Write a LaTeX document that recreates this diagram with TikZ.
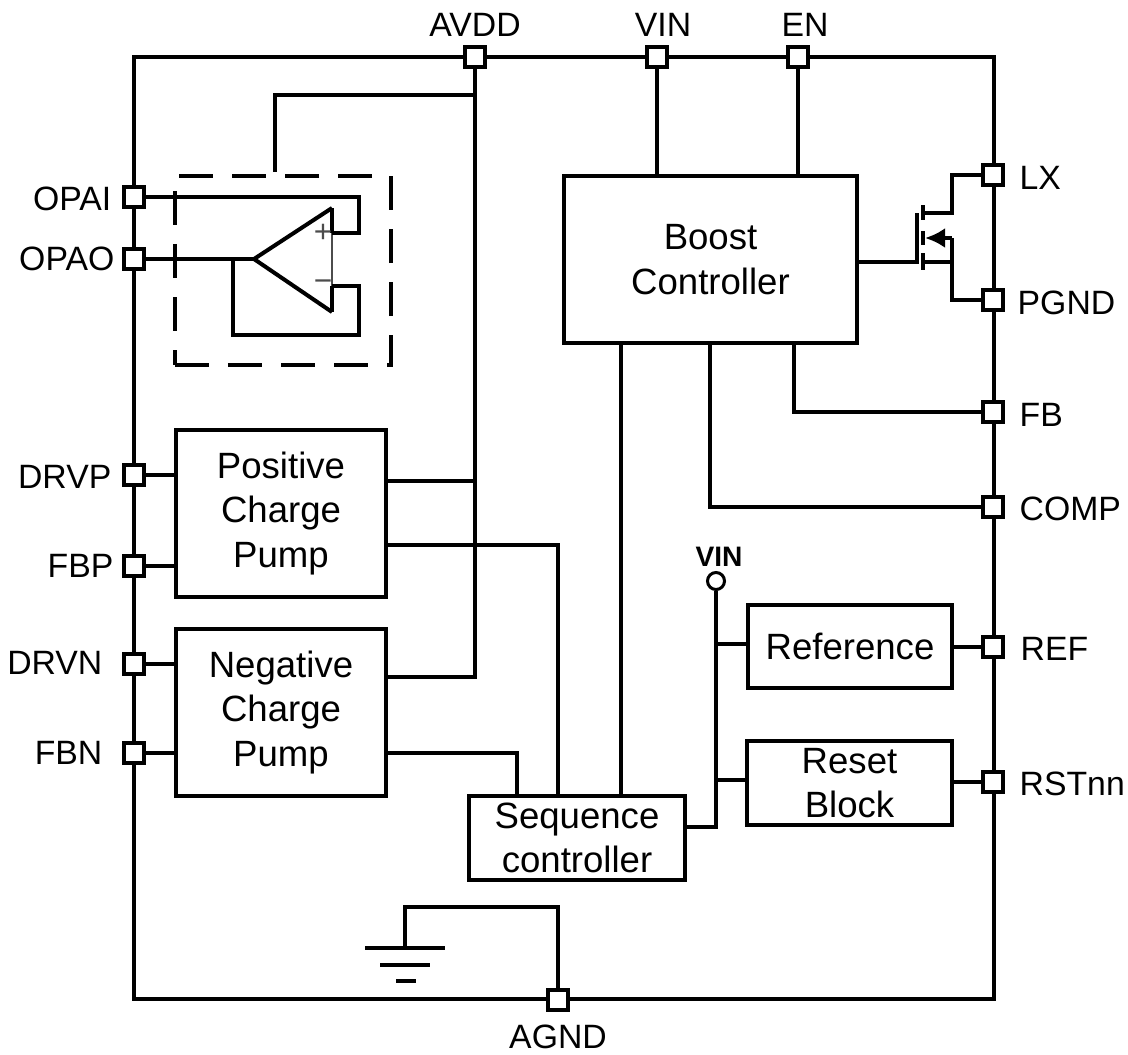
\documentclass[tikz,border=0pt]{standalone}
\usepackage{fontspec}
\setmainfont{Liberation Sans}
\usetikzlibrary{positioning,arrows.meta}
\tikzset{
  wire/.style={line width=0.04cm},
  pin/.style={rectangle, draw, line width=0.04cm, fill=white, minimum size=0.2cm, inner sep=0pt},
  blockbox/.style={rectangle, draw, line width=0.04cm, align=center, inner sep=0pt, font=\fontsize{10.4}{12.6}\selectfont},
  pinlabel/.style={inner sep=0pt, font=\fontsize{9.6}{11}\selectfont},
}

\begin{document}
\begin{tikzpicture}[x=0.01cm, y=-0.01cm]
\useasboundingbox (0,0) rectangle (1128,1054);

% chip outline
\node[rectangle, draw, line width=0.04cm, minimum width=8.6cm, minimum height=9.42cm, inner sep=0pt] (chip) at (564,528) {};

% blocks
\node[blockbox, minimum width=2.93cm, minimum height=1.67cm] (boost) at (710.5,259.5) {Boost\\Controller};
\node[blockbox, minimum width=2.1cm, minimum height=1.67cm] (pospump) at (281,513.5) {Positive\\Charge\\Pump};
\node[blockbox, minimum width=2.1cm, minimum height=1.67cm] (negpump) at (281,712.5) {Negative\\Charge\\Pump};
\node[blockbox, minimum width=2.16cm, minimum height=0.84cm] (seq) at (577,838) {Sequence\\controller};
\node[blockbox, minimum width=2.04cm, minimum height=0.83cm] (reference) at (850,646.5) {Reference};
\node[blockbox, minimum width=2.05cm, minimum height=0.84cm] (reset) at (849.5,783) {Reset\\Block};
\node[rectangle, draw, line width=0.04cm, dash pattern=on 0.34cm off 0.19cm, minimum width=2.16cm, minimum height=1.89cm, inner sep=0pt] (opabox) at (283,270.5) {};

% pins
\node[pin] (avdd) at (475,57) {};
\node[pin] (vin) at (657,57) {};
\node[pin] (en) at (798,57) {};
\node[pin] (opai) at (134,197) {};
\node[pin] (opao) at (134,259) {};
\node[pin] (drvp) at (134,475) {};
\node[pin] (fbp) at (134,566) {};
\node[pin] (drvn) at (134,664) {};
\node[pin] (fbn) at (134,753) {};
\node[pin] (lx) at (993,175) {};
\node[pin] (pgnd) at (993,300) {};
\node[pin] (fb) at (993,412) {};
\node[pin] (comp) at (993,507) {};
\node[pin] (ref) at (993,647) {};
\node[pin] (rst) at (993,782) {};
\node[pin] (agnd) at (558,1000) {};
\node[circle, draw, line width=0.03cm, fill=white, minimum size=0.17cm, inner sep=0pt] (vinpin) at (716,581) {};

% pin labels
\node[pinlabel] at (475,25) {AVDD};
\node[pinlabel] at (663,25) {VIN};
\node[pinlabel] at (805,25) {EN};
\node[pinlabel, anchor=east] at (112,199) {OPAI};
\node[pinlabel, anchor=east] at (115,259) {OPAO};
\node[pinlabel, anchor=east] at (112,477) {DRVP};
\node[pinlabel, anchor=east] at (114,566) {FBP};
\node[pinlabel, anchor=east] at (103,663) {DRVN};
\node[pinlabel, anchor=east] at (103,753) {FBN};
\node[pinlabel, anchor=west] at (1019,178) {LX};
\node[pinlabel, anchor=west] at (1017,303) {PGND};
\node[pinlabel, anchor=west] at (1019,415) {FB};
\node[pinlabel, anchor=west] at (1019,509) {COMP};
\node[pinlabel, anchor=west] at (1020,649) {REF};
\node[pinlabel, anchor=west] at (1019,784) {RSTnn};
\node[pinlabel] at (558,1037) {AGND};
\node[inner sep=0pt, font=\fontsize{8}{9}\selectfont\bfseries] at (719,557) {VIN};

% tap points
\coordinate (postap) at (475,481);
\coordinate (negtap) at (475,677);
\coordinate (opatap) at (475,95);
\coordinate (seqtap) at (558,545);
\coordinate (negseq) at (517,753);
\coordinate (reftap) at (716,644);
\coordinate (rsttap) at (716,780);
\coordinate (seqout) at (716,827);

\draw[wire] (avdd) -- (negtap) -- (negpump.east |- negtap);
\draw[wire] (pospump.east |- postap) -- (postap);
\draw[wire] (opatap) -- (275,95) -- (275,172);
\draw[wire] (pospump.east |- seqtap) -- (seqtap) -- (seqtap |- seq.north);
\draw[wire] (negpump.east |- fbn) -- (negseq) -- (negseq |- seq.north);
\draw[wire] (621,343) -- (621,796);
\draw[wire] (vin) -- (vin |- boost.north);
\draw[wire] (en) -- (en |- boost.north);
\draw[wire] (794,343) |- (fb);
\draw[wire] (710,343) |- (comp);
\draw[wire] (seq.east |- seqout) -- (seqout) -- (vinpin);
\draw[wire] (reftap) -- (reference.west |- reftap);
\draw[wire] (rsttap) -- (reset.west |- rsttap);
\draw[wire] (reference.east |- ref) -- (ref);
\draw[wire] (reset.east |- rst) -- (rst);

% left pins
\draw[wire] (drvp) -- (pospump.west |- drvp);
\draw[wire] (fbp) -- (pospump.west |- fbp);
\draw[wire] (drvn) -- (negpump.west |- drvn);
\draw[wire] (fbn) -- (negpump.west |- fbn);

% op amp
\coordinate (opaout) at (254,259);
\coordinate (opatop) at (332,208);
\coordinate (opabot) at (332,312);
\coordinate (opaplus) at (332,233);
\coordinate (opaminus) at (332,286);
\draw[wire] (opabot) -- (opaout) -- (opatop);
\draw[line width=0.02cm, black!70] (opatop) -- (opabot);
\draw[wire] (opatop) -- (opaplus);
\draw[wire] (opaminus) -- (opabot);
\draw[wire] (opai) -- (359,197) -- (359,233) -- (opaplus);
\draw[wire] (opaminus) -- (359,286) -- (359,335) -- (233,335) -- (233,259);
\draw[wire] (opao) -- (opaout);
\node[inner sep=0pt, text=black!70, font=\fontsize{9}{10}\selectfont] at (323,233) {+};
\node[inner sep=0pt, text=black!70, font=\fontsize{9}{10}\selectfont] at (323,286) {−};

% mosfet
\coordinate (gate) at (917,262);
\draw[wire] (boost.east |- gate) -- (gate) -- (917,213);
\draw[wire] (923,205) -- (923,220);
\draw[wire] (923,231) -- (923,245);
\draw[wire] (923,253) -- (923,270);
\draw[wire] (923,213) -- (952,213) -- (952,175) -- (lx);
\draw[wire] (923,262) -- (952,262);
\draw[wire] (pgnd) -- (952,300) -- (952,238);
\draw[wire, -{Latex[length=0.2cm, width=0.2cm]}] (952,238) -- (925,238);

% ground
\coordinate (gnd) at (405,948);
\draw[wire] (agnd) -- (558,907) -- (405,907) -- (gnd);
\draw[wire] (365,948) -- (445,948);
\draw[wire] (380,965) -- (430,965);
\draw[wire] (396,981) -- (416,981);
\end{tikzpicture}
\end{document}
